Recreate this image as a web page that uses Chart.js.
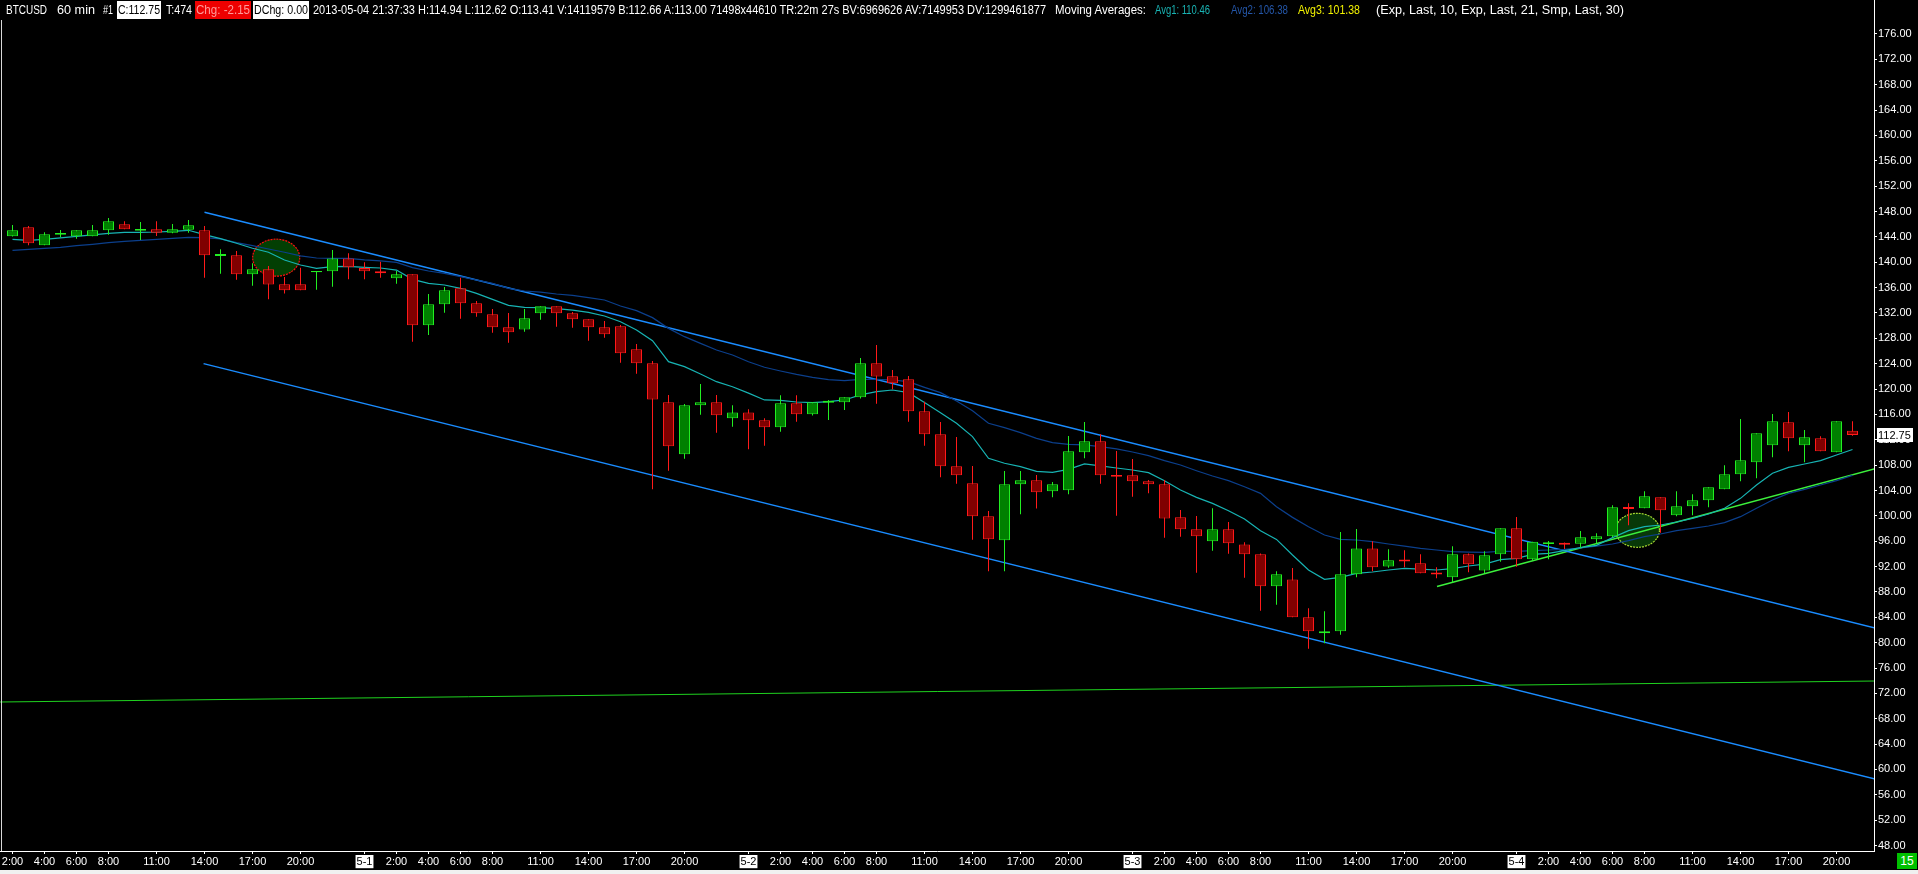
<!DOCTYPE html>
<html><head><meta charset="utf-8">
<script src="https://cdn.jsdelivr.net/npm/chart.js@4.4.1/dist/chart.umd.min.js"></script>
<style>
html,body{margin:0;padding:0;background:#000;overflow:hidden;width:1918px;height:874px;}
#wrap{position:relative;width:1918px;height:874px;background:#000;}
#c{position:absolute;left:0;top:0;}
#hdr{position:absolute;left:0;top:0;width:1874px;height:20px;font-family:'Liberation Sans',Arial,sans-serif;font-size:12px;color:#fff;}
#hdr .t{position:absolute;top:2px;line-height:16px;white-space:nowrap;transform-origin:0 50%;}
#hdr .b{position:absolute;top:1px;height:18px;}
#strip{position:absolute;left:0;top:870px;width:1918px;height:4px;background:#f0f0f0;}
#badge{position:absolute;left:1897px;top:853px;width:20px;height:16px;background:#00c000;color:#fff;font-family:'Liberation Sans',Arial,sans-serif;font-size:12px;line-height:16px;text-align:center;}
</style></head>
<body><div id="wrap"><canvas id="c" width="1918" height="874"></canvas><div id="hdr"></div><div id="strip"></div><div id="badge">15</div></div>
<script>
// ---- data (BTCUSD, 60 min bars, 2013-04-30 02:00 .. 2013-05-04 21:00) ----
const firstHour = 2; // hours after 2013-04-30 00:00 of the first bar
const open = [144.09,145.51,142.67,144.35,144.09,144.09,145.04,145.98,144.98,145.19,144.67,145.14,145.04,141.0,141.09,138.10,138.88,136.52,136.52,138.41,138.57,140.57,139.09,138.56,137.46,138.09,130.05,133.36,135.88,133.52,131.78,129.73,129.41,131.94,133.04,131.94,130.99,129.73,129.89,126.26,124.05,117.90,109.70,117.43,117.90,115.38,116.32,115.07,113.97,117.75,116.02,117.85,117.91,118.70,124.06,122.01,121.54,116.49,112.86,107.81,105.13,99.93,96.14,104.97,105.61,103.87,104.03,110.02,111.76,106.45,106.39,105.44,104.97,99.76,97.87,95.98,97.87,95.50,93.93,88.88,89.98,83.99,81.47,81.78,90.77,94.87,92.03,93.10,92.51,91.05,90.30,93.93,91.40,93.93,98.03,93.14,95.55,95.75,95.61,96.30,96.77,101.40,101.19,102.92,100.08,101.50,102.45,104.18,106.55,108.44,111.12,114.75,111.12,112.23,110.02,113.41];
const high = [145.88,145.72,144.72,145.09,145.04,145.88,146.98,146.46,146.35,146.46,146.03,146.67,145.72,142.04,141.78,139.83,139.41,137.67,139.15,138.62,141.93,141.41,139.99,140.09,138.62,138.09,134.99,136.09,137.56,133.88,132.62,131.99,132.62,133.04,133.04,132.15,130.99,130.73,130.10,127.10,124.42,119.06,117.64,120.79,119.06,117.43,116.83,115.38,119.01,119.01,117.91,118.28,118.70,124.90,126.95,123.01,122.06,118.01,114.81,112.44,107.87,100.77,107.08,107.08,106.45,105.34,112.60,114.81,112.86,110.23,108.96,105.65,105.65,100.92,99.97,101.18,99.03,95.82,94.08,91.25,91.77,85.41,84.94,97.45,97.92,95.98,94.72,94.56,93.93,91.88,95.19,94.08,94.40,98.03,99.82,95.93,96.03,95.80,97.61,97.24,101.66,101.97,103.87,102.92,103.87,103.39,104.50,107.97,115.28,113.02,116.06,116.38,113.54,112.54,114.91,114.94];
const low = [144.04,142.67,142.67,143.93,143.72,144.09,144.35,145.19,143.51,144.14,144.56,144.67,137.57,138.20,137.25,136.31,134.15,135.05,135.57,135.68,136.15,137.31,137.31,137.56,136.62,127.47,128.52,132.04,131.10,131.41,128.89,127.31,129.05,130.94,129.84,129.68,127.63,128.10,124.16,122.42,104.18,107.12,109.02,115.96,113.12,114.06,110.50,111.07,113.28,114.86,115.81,115.12,116.70,118.49,117.70,119.96,114.86,111.07,106.08,105.08,96.25,91.25,91.25,100.24,101.14,102.92,103.40,109.08,105.08,100.03,103.02,103.55,96.56,96.71,91.03,94.50,94.03,90.25,85.04,85.99,83.99,79.05,79.89,81.26,90.30,91.25,91.82,91.88,90.93,90.14,89.51,91.09,90.93,92.77,91.98,93.04,93.14,94.77,94.98,95.66,96.61,98.50,101.19,97.35,99.92,100.08,101.34,104.18,105.44,105.92,109.23,110.18,108.44,110.18,110.02,112.62];
const close = [145.04,142.99,144.40,144.61,145.04,145.04,146.46,145.19,145.25,144.67,145.19,145.82,141.09,141.3,138.10,138.88,136.47,135.57,135.57,138.62,140.57,139.20,138.57,138.25,138.09,130.05,133.36,135.57,133.52,131.94,129.73,128.94,131.15,133.04,131.94,130.99,129.73,128.63,125.63,124.05,118.37,110.96,117.43,117.90,115.85,116.32,115.07,113.97,117.75,116.02,117.91,118.15,118.70,124.06,121.96,120.91,116.49,112.86,107.81,106.39,99.93,96.30,104.97,105.61,103.71,104.97,110.18,111.76,106.39,106.15,105.44,104.97,99.60,97.87,96.77,97.87,95.66,93.93,88.88,90.77,83.99,81.78,81.78,90.77,94.87,91.88,92.98,92.80,90.93,90.75,93.93,92.35,93.77,98.03,93.14,95.93,95.85,95.45,96.61,96.77,101.34,101.10,103.08,100.87,101.50,102.45,104.50,106.55,108.76,113.02,114.91,112.23,112.38,110.18,114.91,112.75];
// Moving averages as drawn (Avg1 = Exp 10, Avg2 = Exp 21)
const avg1 = [143.62,143.46,143.62,143.83,144.09,144.30,144.56,144.72,144.72,144.77,144.88,145.04,144.35,143.72,142.99,142.20,141.57,140.36,139.57,139.04,139.30,139.36,139.20,139.09,138.77,137.30,136.67,136.41,135.88,135.09,134.15,133.20,132.89,132.83,132.67,132.46,132.10,131.52,130.62,129.31,127.63,124.32,123.53,122.37,121.16,120.37,119.35,118.28,118.22,117.96,117.86,118.01,118.28,119.07,119.59,119.85,119.43,117.86,116.28,114.60,112.49,109.08,108.29,107.76,107.02,106.87,107.34,108.18,107.87,107.55,107.23,106.81,105.55,104.07,102.92,101.97,100.81,99.50,97.66,96.29,93.82,91.46,89.98,90.30,90.93,91.14,91.46,91.72,91.61,91.46,91.67,92.09,92.40,93.10,93.30,93.93,94.09,94.51,94.98,95.35,96.56,97.66,98.29,98.56,99.03,99.61,100.29,101.19,102.76,104.87,106.71,107.65,108.18,108.70,109.60,110.46];
const avg2 = [141.88,142.04,142.20,142.35,142.62,142.83,143.09,143.30,143.46,143.62,143.77,143.93,143.88,143.67,143.09,142.62,142.09,141.57,140.99,140.67,140.62,140.62,140.36,140.20,139.98,139.14,138.62,138.25,137.72,137.20,136.67,135.88,135.46,135.30,134.99,134.78,134.41,134.04,133.10,132.36,131.26,129.57,128.26,127.21,126.16,125.37,124.30,123.43,122.85,122.32,121.85,121.48,121.33,121.54,121.54,121.43,121.17,120.27,119.43,118.12,116.59,114.60,113.91,113.12,112.23,111.55,111.28,111.18,110.92,110.55,110.07,109.49,108.70,108.02,107.12,106.28,105.55,104.60,103.55,101.44,99.76,98.29,96.98,96.29,96.19,95.92,95.56,95.24,94.87,94.61,94.35,94.29,94.24,94.42,94.40,94.51,94.61,94.72,94.93,95.24,95.56,96.09,96.72,97.14,97.66,98.03,98.40,98.93,99.87,101.19,102.50,103.55,104.18,104.87,105.55,106.38];
// Drawn trend lines: [hour, price] end points
const trendUpper = [[14.0,147.88],[118.4,82.31]];
const trendLower = [[13.94,124.01],[118.4,58.49]];
const supportFlat = [[1.2,70.64],[118.4,73.95]];
const trendRising = [[91.03,88.85],[118.4,107.42]];
// Highlight ellipses: centre hour, centre price, half-width (hours), half-height (price)
const zoneHour = [18.48,103.56];
const zonePrice = [140.72,97.72];
const zoneHalfHours = [1.47,1.375];
const zoneHalfPrice = [2.92,2.68];
// Axis ticks
const xTickHours = [2,4,6,8,11,14,17,20,24,26,28,30,32,35,38,41,44,48,50,52,54,56,59,62,65,68,72,74,76,78,80,83,86,89,92,96,98,100,102,104,107,110,113,116];
const xTickLabels = ['2:00','4:00','6:00','8:00','11:00','14:00','17:00','20:00','5-1','2:00','4:00','6:00','8:00','11:00','14:00','17:00','20:00','5-2','2:00','4:00','6:00','8:00','11:00','14:00','17:00','20:00','5-3','2:00','4:00','6:00','8:00','11:00','14:00','17:00','20:00','5-4','2:00','4:00','6:00','8:00','11:00','14:00','17:00','20:00'];
const yTicks = [48,52,56,60,64,68,72,76,80,84,88,92,96,100,104,108,112,116,120,124,128,132,136,140,144,148,152,156,160,164,168,172,176];
const lastPrice = 112.75;

// ---- header ----
const FONT = "'Liberation Sans',Arial,sans-serif";
const headerSegs = [
  ['BTCUSD',6,41,'#fff',null],
  ['60 min',57,38,'#fff',null],
  ['#1',103,10,'#fff',null],
  ['C:112.75',117,44,'#000','#fff'],
  ['T:474',166,26,'#fff',null],
  ['Chg: -2.15',195,56,'#ff9a9a','#ee0000'],
  ['DChg: 0.00',253,56,'#000','#fff'],
  ['2013-05-04 21:37:33 H:114.94 L:112.62 O:113.41 V:14119579 B:112.66 A:113.00 71498x44610 TR:22m 27s BV:6969626 AV:7149953 DV:1299461877',313,733,'#fff',null],
  ['Moving Averages:',1055,91,'#fff',null],
  ['Avg1: 110.46',1155,55,'#19b3b3',null],
  ['Avg2: 106.38',1231,57,'#2456a8',null],
  ['Avg3: 101.38',1298,62,'#f2f200',null],
  ['(Exp, Last, 10, Exp, Last, 21, Smp, Last, 30)',1376,248,'#fff',null]
];
const hdr = document.getElementById('hdr');
const spans = [];
headerSegs.forEach(([txt,left,w,col,bg])=>{
  if(bg){const b=document.createElement('div');b.className='b';b.style.left=left+'px';b.style.width=w+'px';b.style.background=bg;hdr.appendChild(b);}
  const s=document.createElement('span');s.className='t';s.textContent=txt;s.style.left=(bg?left+1:left)+'px';s.style.color=col;hdr.appendChild(s);
  spans.push([s,bg?w-2:w]);
});
function fitHeader(){spans.forEach(([s,w])=>{s.style.transform='none';const nw=s.getBoundingClientRect().width;if(nw>0)s.style.transform='scaleX('+(w/nw)+')';});}
fitHeader();

// ---- chart ----
const up = (i)=>close[i]>=open[i];
const wickData = open.map((o,i)=>({x:firstHour+i,y:[low[i],high[i]]}));
const bodyData = open.map((o,i)=>({x:firstHour+i,y:[o,close[i]]}));
const lineOf = (arr)=>arr.map((v,i)=>({x:firstHour+i,y:v}));
const seg = (pts)=>pts.map(p=>({x:p[0],y:p[1]}));

const overlay = {
  id:'overlay',
  beforeDatasetsDraw(chart){
    const {ctx,scales:{x,y}} = chart;
    const fills=['#033f03','#083808'], strokes=['#ff1010','#a6d832'];
    ctx.save();
    zoneHour.forEach((h,k)=>{
      const cx=x.getPixelForValue(h), cy=y.getPixelForValue(zonePrice[k]);
      const rx=Math.abs(x.getPixelForValue(h+zoneHalfHours[k])-cx);
      const ry=Math.abs(y.getPixelForValue(zonePrice[k]+zoneHalfPrice[k])-cy);
      ctx.beginPath();ctx.ellipse(cx,cy,rx,ry,0,0,Math.PI*2);
      ctx.fillStyle=fills[k];ctx.fill();
      ctx.setLineDash([2,1]);ctx.lineWidth=1.2;ctx.strokeStyle=strokes[k];ctx.stroke();
    });
    ctx.restore();
  },
  afterDraw(chart){
    const {ctx,scales:{y},chartArea} = chart;
    ctx.save();
    ctx.fillStyle='#d8d8d8';ctx.fillRect(1,20,1,chartArea.bottom-20);
    const py=Math.round(y.getPixelForValue(lastPrice));
    ctx.fillStyle='#fff';ctx.fillRect(1877,py-7,36,14);
    ctx.fillStyle='#000';ctx.font='11px '+FONT;ctx.textBaseline='middle';ctx.textAlign='left';
    ctx.fillText(lastPrice.toFixed(2),1878,py+0.5);
    ctx.restore();
  }
};

Chart.defaults.font.family = FONT;
Chart.defaults.font.size = 11;
new Chart(document.getElementById('c'),{
  type:'bar',
  data:{datasets:[
    {type:'bar',label:'Body',data:bodyData,grouped:false,barThickness:11,borderWidth:1,borderSkipped:false,inflateAmount:0,
      backgroundColor:open.map((o,i)=>up(i)?'#008000':'#800000'),borderColor:open.map((o,i)=>up(i)?'#22ee22':'#ff1a1a'),order:0},
    {type:'bar',label:'Wick',data:wickData,grouped:false,barThickness:1,borderWidth:0,inflateAmount:0,
      backgroundColor:open.map((o,i)=>up(i)?'#22ee22':'#ff1a1a'),order:1},
    {type:'line',label:'Avg1',data:lineOf(avg1),borderColor:'#17b3b3',borderWidth:1.2,pointRadius:0,tension:0,order:2},
    {type:'line',label:'Avg2',data:lineOf(avg2),borderColor:'#0b3f8c',borderWidth:1.2,pointRadius:0,tension:0,order:2},
    {type:'line',label:'Upper channel',data:seg(trendUpper),borderColor:'#1a8cff',borderWidth:1.5,pointRadius:0,order:3},
    {type:'line',label:'Lower channel',data:seg(trendLower),borderColor:'#1a8cff',borderWidth:1.5,pointRadius:0,order:3},
    {type:'line',label:'Support',data:seg(supportFlat),borderColor:'#1fd21f',borderWidth:1,pointRadius:0,order:3},
    {type:'line',label:'Rising',data:seg(trendRising),borderColor:'#3cf03c',borderWidth:1.5,pointRadius:0,order:3}
  ]},
  options:{
    responsive:false,maintainAspectRatio:false,animation:false,
    layout:{padding:0},
    plugins:{legend:{display:false},tooltip:{enabled:false}},
    scales:{
      x:{type:'linear',min:1.21875,max:118.34375,offset:false,
        grid:{display:true,offset:false,drawOnChartArea:false,drawTicks:true,tickLength:3,color:'#fff',lineWidth:1},
        border:{display:true,color:'#fff',width:1},
        ticks:{autoSkip:false,maxRotation:0,minRotation:0,padding:1,
          callback:(v,i)=>xTickLabels[i],
          color:(c)=>(xTickLabels[c.index]||'').includes('-')?'#000':'#fff',
          showLabelBackdrop:true,
          backdropColor:(c)=>(xTickLabels[c.index]||'').includes('-')?'#fff':'rgba(0,0,0,0)',
          backdropPadding:{x:1,y:0}},
        afterBuildTicks:(s)=>{s.ticks=xTickHours.map(v=>({value:v}));},
        afterFit:(s)=>{s.height=23;s.paddingLeft=0;s.paddingRight=0;}
      },
      y:{type:'linear',position:'right',min:47.14,max:181.36,
        grid:{display:true,drawOnChartArea:false,drawTicks:true,tickLength:3,color:'#fff'},
        border:{display:true,color:'#fff',width:1},
        ticks:{color:'#fff',padding:1,crossAlign:'near',callback:(v)=>Number(v).toFixed(2)},
        afterBuildTicks:(s)=>{s.ticks=yTicks.map(v=>({value:v}));},
        afterFit:(s)=>{s.width=44;s.paddingTop=0;s.paddingBottom=0;}
      }
    }
  },
  plugins:[overlay]
});
if(document.fonts&&document.fonts.ready){document.fonts.ready.then(fitHeader);}
</script>
</body></html>
